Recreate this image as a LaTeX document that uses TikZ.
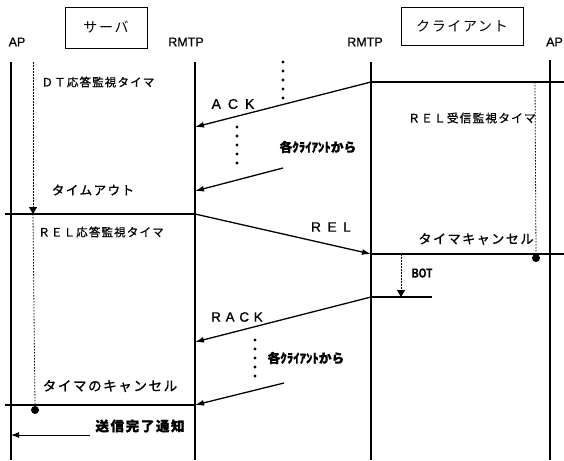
\documentclass[tikz,border=0pt]{standalone}
\usepackage{fontspec}
\setmainfont{Liberation Sans}[FakeBold=0.6]
\newfontfamily\jp{Noto Sans CJK JP}[FakeBold=0.8]
\newfontfamily\jpA{Noto Sans CJK JP}[LetterSpace=10,FakeBold=0.8]
\newfontfamily\jpB{Noto Sans CJK JP}[LetterSpace=12,FakeBold=1.2]
\newfontfamily\jpC{Noto Sans CJK JP}[LetterSpace=12]
\newfontfamily\lsA{Liberation Sans}[LetterSpace=50,FakeBold=0.8]
\newfontfamily\lsB{Liberation Sans}[LetterSpace=35,FakeBold=0.8]
\usetikzlibrary{arrows.meta}
\tikzset{
  lifeline/.style={line width=1.8pt},
  msg/.style={line width=1.3pt,-{Latex[length=9pt,width=6pt]}},
  hline/.style={line width=1.2pt},
  timer/.style={line width=0.8pt,dash pattern=on 1.5pt off 1.5pt},
  timerarrow/.style={timer,-{Triangle[length=7pt,width=8pt,sep=0pt]}},
  dots/.style={line width=3.2pt,line cap=round,dash pattern=on 0pt off 9pt},
  bigdot/.style={circle,fill=black,inner sep=0pt,minimum size=8pt},
  lbl/.style={inner sep=0pt,anchor=center},
  box/.style={draw,line width=0.8pt,inner sep=0pt}
}
\begin{document}
\begin{tikzpicture}[x=1pt,y=-1pt]
\fill[white] (0,0) rectangle (564,460);
\useasboundingbox (0,0) rectangle (564,460);
% boxes
\node[box,minimum width=82pt,minimum height=41pt] (srv) at (106,27.5) {\jpC\fontsize{14}{14}\selectfont サーバ};
\node[box,minimum width=122pt,minimum height=38pt] (cli) at (462,26) {\jpC\fontsize{14}{14}\selectfont クライアント};
% lifeline titles
\node[lbl] (apLt) at (17,42) {\fontsize{12.5}{12.5}\selectfont AP};
\node[lbl] (rmLt) at (186,42) {\fontsize{12.5}{12.5}\selectfont RMTP};
\node[lbl] (rmRt) at (365,42) {\fontsize{12.5}{12.5}\selectfont RMTP};
\node[lbl] (apRt) at (554.5,42) {\fontsize{12.5}{12.5}\selectfont AP};
% lifeline coordinates
\coordinate (apL1) at (11,62);  \coordinate (apL2) at (11,460);
\coordinate (rmL1) at (195,62); \coordinate (rmL2) at (195,460);
\coordinate (rmR1) at (371,62); \coordinate (rmR2) at (371,460);
\coordinate (apR1) at (550,60); \coordinate (apR2) at (550,460);
\draw[lifeline] (apL1) -- (apL2);
\draw[lifeline] (rmL1) -- (rmL2);
\draw[lifeline] (rmR1) -- (rmR2);
\draw[lifeline] (apR1) -- (apR2);
% message points
\coordinate (p82) at (371,82);   \coordinate (e82) at (564,82);
\coordinate (ack) at (195,127);
\coordinate (a2s) at (283,168);  \coordinate (a2e) at (195,191);
\coordinate (to1) at (5,214);    \coordinate (to2) at (195,214);
\coordinate (relE) at (371,254); \coordinate (e254) at (564,254);
\coordinate (botS) at (401,254); \coordinate (botE) at (401,297);
\coordinate (bot1) at (371,297); \coordinate (bot2) at (432,297);
\coordinate (rack) at (195,342);
\coordinate (r2s) at (284,383);  \coordinate (r2e) at (195,405);
\coordinate (c1) at (5,405);
\coordinate (nS) at (90,435);    \coordinate (nE) at (11,435);
% timers
\coordinate (dt1) at (33,62); \coordinate (dt2) at (33,214);
\node[bigdot] (dotL) at (35,410) {};
\draw[timerarrow] (dt1) -- (dt2);
\draw[timer] (dt2) -- (dotL.north);
\coordinate (rt1) at (535,82);
\node[bigdot] (dotR) at (536,258) {};
\draw[timer] (rt1) -- (dotR.north);
% horizontal lines and messages
\draw[hline] (p82) -- (e82);
\draw[msg] (p82) -- (ack);
\draw[msg] (a2s) -- (a2e);
\draw[hline] (to1) -- (to2);
\draw[msg] (to2) -- (relE);
\draw[hline] (relE) -- (e254);
\draw[timerarrow] (botS) -- (botE);
\draw[hline] (bot1) -- (bot2);
\draw[msg] (bot1) -- (rack);
\draw[msg] (r2s) -- (r2e);
\draw[hline] (c1) -- (r2e);
\draw[line width=1pt,-{Latex[length=8pt,width=6pt]}] (nS) -- (nE);
% dot columns
\draw[dots] (283,62) -- (283,100);
\draw[dots] (237,127) -- (237,165);
\draw[dots] (255,340) -- (255,378);
% labels
\node[lbl] (dtT) at (98,82) {\jpA\fontsize{11.5}{11.5}\selectfont ＤＴ応答監視タイマ};
\node[lbl] (ackT) at (233,104) {\lsA\fontsize{14}{14}\selectfont ACK};
\node[lbl] (frm1) at (318,147) {\jp\fontsize{12.8}{12.8}\selectfont\bfseries 各ｸﾗｲｱﾝﾄから};
\node[lbl] (toT) at (93,190) {\jpB\fontsize{12.5}{12.5}\selectfont タイムアウト};
\node[lbl] (relT) at (101,232) {\jpA\fontsize{11.5}{11.5}\selectfont ＲＥＬ応答監視タイマ};
\node[lbl] (relM) at (331,227) {\lsA\fontsize{13.5}{13.5}\selectfont REL};
\node[lbl] (relR) at (472,118) {\jpA\fontsize{11.7}{11.7}\selectfont ＲＥＬ受信監視タイマ};
\node[lbl] (tcT) at (476,239) {\jpB\fontsize{13}{13}\selectfont タイマキャンセル};
\node[lbl,xscale=0.75] (botT) at (422,273) {\fontsize{13}{13}\selectfont\bfseries BOT};
\node[lbl] (rackT) at (237,317) {\lsB\fontsize{13.5}{13.5}\selectfont RACK};
\node[lbl] (frm2) at (306,358) {\jp\fontsize{12.8}{12.8}\selectfont\bfseries 各ｸﾗｲｱﾝﾄから};
\node[lbl] (tc2T) at (110,386) {\jpB\fontsize{13.5}{13.5}\selectfont タイマのキャンセル};
\node[lbl] (ntT) at (140,426) {\jpB\fontsize{13.5}{13.5}\selectfont\bfseries 送信完了通知};
\end{tikzpicture}
\end{document}
